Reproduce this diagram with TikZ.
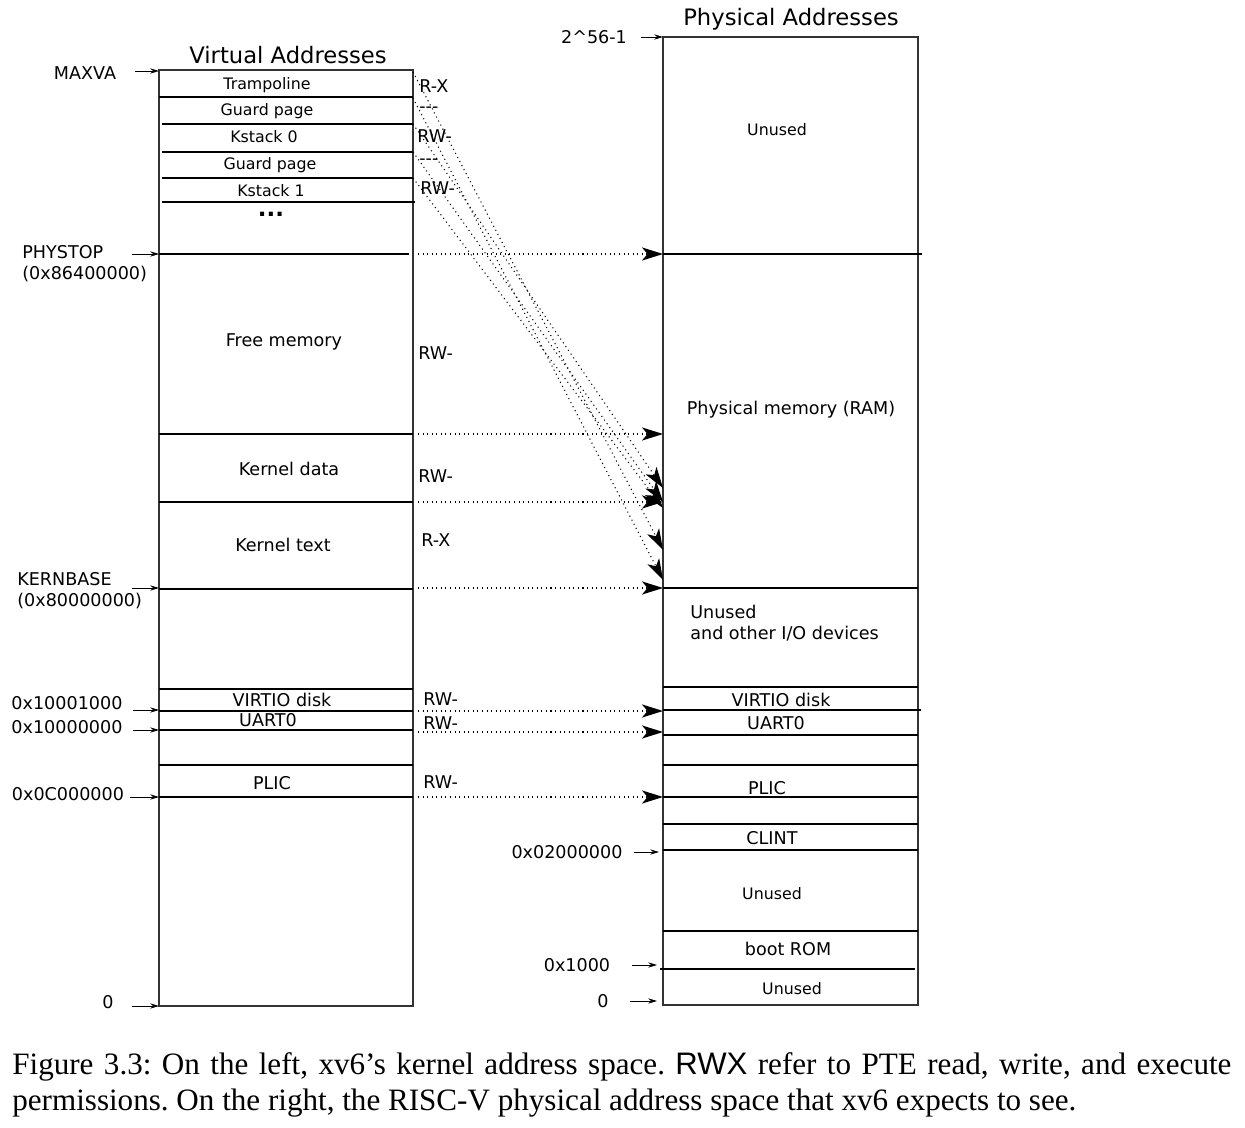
\documentclass[tikz,border=0pt]{standalone}
\usepackage{fontspec}
\setmainfont{Liberation Serif}
\newfontfamily\figfont{DejaVu Sans}
\newfontfamily\capsans{Liberation Sans}
\usetikzlibrary{arrows.meta}

\tikzset{
  box/.style={line width=1.1pt, draw=black!80},
  sep/.style={line width=0.7pt},
  lbl/.style={font=\figfont\fontsize{10}{12}\selectfont, inner sep=0pt},
  small/.style={font=\figfont\fontsize{9}{11}\selectfont, inner sep=0pt},
  title/.style={font=\figfont\fontsize{12.9}{15}\selectfont, inner sep=0pt},
  perm/.style={lbl, anchor=west},
  addr/.style={line width=0.5pt, -{Stealth[length=5pt,width=3pt]}},
  map/.style={dotted, line width=0.6pt, -{Stealth[length=12pt,width=7.5pt,inset=3.2pt]}},
}

\begin{document}
\begin{tikzpicture}[x=0.02cm,y=-0.02cm]
\useasboundingbox (0,0) rectangle (1245,1128);

% virtual addresses
\node[title] (vtitle) at (288,55) {Virtual Addresses};
\draw[box] (159,70) rectangle (413,1006);
\draw[sep]
(159,97)--(413,97)
(162,124)--(413,124)
(162,152)--(413,152)
(162,178)--(413,178)
(162,202)--(415,202)
(159,254)--(409,254)
(159,434)--(413,434)
(159,502)--(413,502)
(159,589)--(413,589)
(159,689)--(413,689)
(159,711)--(413,711)
(159,730)--(413,730)
(159,765)--(413,765)
(159,797)--(413,797);
\node[small] (tramp) at (267,85) {Trampoline};
\node[small] (guard0) at (267,111) {Guard page};
\node[small] (kstack0) at (264,137) {Kstack 0};
\node[small] (guard1) at (270,165) {Guard page};
\node[small] (kstack1) at (271,191) {Kstack 1};
\node[inner sep=0pt, text height=3pt, text depth=0pt,
  font=\figfont\bfseries\fontsize{13}{15}\selectfont] (vdots) at (271,214) {...};
\node[lbl] (freemem) at (284,342) {Free memory};
\node[lbl] (kdata) at (289,469) {Kernel data};
\node[lbl] (ktext) at (283,545) {Kernel text};
\node[lbl] (vvirtio) at (282,700) {VIRTIO disk};
\node[lbl] (vuart) at (268,720) {UART0};
\node[lbl] (vplic) at (272,783) {PLIC};

% permissions
\node[perm] (ptramp) at (419,86) {R-X};
\node[perm] (pguard0) at (419,110) {-{}-{}-};
\node[perm] (pkstack0) at (417,136) {RW-};
\node[perm] (pguard1) at (419,162) {-{}-{}-};
\node[perm] (pkstack1) at (420,188) {RW-};
\node[perm] (pfree) at (418,353) {RW-};
\node[perm] (pkdata) at (418,476) {RW-};
\node[perm] (pktext) at (421,540) {R-X};
\node[perm] (pvirtio) at (423,699) {RW-};
\node[perm] (puart) at (423,723) {RW-};
\node[perm] (pplic) at (423,782) {RW-};

% virtual address labels
\node[lbl] (lmaxva) at (85,73) {MAXVA};
\node[lbl, anchor=west, align=left] (lphystop) at (22,264) {PHYSTOP\\(0x86400000)};
\node[lbl, anchor=west, align=left] (lkernbase) at (17,591) {KERNBASE\\(0x80000000)};
\node[lbl] (lvirtio) at (67,703) {0x10001000};
\node[lbl] (luart) at (67,727) {0x10000000};
\node[lbl] (lplic) at (68,794) {0x0C000000};
\node[lbl] (lvzero) at (108,1002) {0};
\foreach \n/\x/\y in {maxva/135/71, phystop/132/254, kernbase/132/588,
  virtio/133/710, uart/133/730, plic/130/797, vzero/132/1006} {
  \coordinate (a\n) at (\x,\y);
  \coordinate (v\n) at (159,\y);
  \draw[addr] (a\n) -- (v\n);
}

% physical addresses
\node[title] (ptitle) at (791,19) {Physical Addresses};
\draw[box] (663,37) rectangle (918,1005);
\draw[sep]
(663,254)--(922,254)
(663,588)--(918,588)
(663,687)--(918,687)
(663,710)--(921,710)
(663,735)--(918,735)
(663,765)--(918,765)
(663,797)--(918,797)
(663,824)--(918,824)
(663,850)--(918,850)
(663,931)--(918,931)
(660,969)--(915,969);
\node[small] (unused0) at (777,130) {Unused};
\node[lbl] (ram) at (791,410) {Physical memory (RAM)};
\node[lbl, anchor=west, align=left] (iodev) at (690,623) {Unused\\and other I/O devices};
\node[lbl] (rvirtio) at (781,700) {VIRTIO disk};
\node[lbl] (ruart) at (776,723) {UART0};
\node[lbl] (rplic) at (767,788) {PLIC};
\node[lbl] (clint) at (772,838) {CLINT};
\node[small] (unused1) at (772,894) {Unused};
\node[lbl] (bootrom) at (788,949) {boot ROM};
\node[small] (unused2) at (792,989) {Unused};

% physical address labels
\node[lbl] (ltop) at (594,37) {2\string^56-1};
\node[lbl] (lclint) at (567,852) {0x02000000};
\node[lbl] (lrom) at (577,965) {0x1000};
\node[lbl] (lpzero) at (603,1001) {0};
\foreach \n/\x/\y/\e in {top/641/37/663, clint/634/852/659, rom/632/965/657, pzero/630/1001/657} {
  \coordinate (b\n) at (\x,\y);
  \coordinate (p\n) at (\e,\y);
  \draw[addr] (b\n) -- (p\n);
}

% mappings
\foreach \i/\y in {1/254, 2/434, 3/502, 4/588, 5/711, 6/732, 7/797} {
  \coordinate (ms\i) at (418,\y);
  \coordinate (me\i) at (663,\y);
  \draw[map] (ms\i) -- (me\i);
}
\foreach \i/\ys/\ye in {1/72/550, 2/98/580, 3/124/488, 4/152/502, 5/178/508} {
  \coordinate (ds\i) at (413,\ys);
  \coordinate (de\i) at (663,\ye);
  \draw[map] (ds\i) -- (de\i);
}

% caption
\node[anchor=north west, inner sep=0pt, text width=693.9pt, align=justify,
  font=\fontsize{17.7}{20.6}\selectfont\frenchspacing] (caption) at (12,1052)
  {Figure 3.3: On the left, xv6’s kernel address space. {\capsans RWX} refer to PTE read, write, and execute permissions. On the right, the RISC-V physical address space that xv6 expects to see.};
\end{tikzpicture}
\end{document}
